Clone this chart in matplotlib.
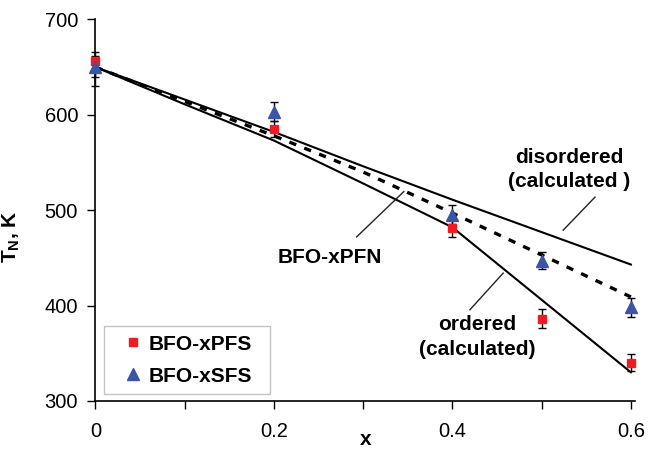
import numpy as np
import matplotlib
matplotlib.use("Agg")
from matplotlib import pyplot as plt

plt.rcParams["font.family"] = ["Liberation Sans", "DejaVu Sans"]
plt.rcParams["mathtext.default"] = "regular"

# calculated curves
x_calc = [0.0, 0.1, 0.2, 0.3, 0.4, 0.5, 0.6]
t_disordered = [650, 616, 582, 546, 511, 477, 443]
t_ordered = [650, 611, 573, 528, 482, 406, 330]
t_pfn = [650, 614, 578, 540, 497, 453, 409]

# measured points
x_pfs = [0.0, 0.2, 0.4, 0.5, 0.6]
t_pfs = [656, 585, 481, 386, 340]
err_pfs_lo = [16, 8, 9, 10, 9]
err_pfs_hi = [10, 8, 9, 10, 9]

x_sfs = [0.0, 0.2, 0.4, 0.5, 0.6]
t_sfs = [650, 603, 495, 447, 398]
err_sfs_lo = [20, 10, 10, 9, 10]
err_sfs_hi = [12, 10, 10, 9, 10]

red = "#ED1C24"
blue = "#3A55A5"

fig = plt.figure(figsize=(6.49, 4.51), dpi=100)
ax = fig.add_axes([0.147, 0.111, 0.832, 0.846])

ax.plot(x_calc, t_disordered, color="black", lw=1.5, clip_on=False, zorder=2)
ax.plot(x_calc, t_ordered, color="black", lw=1.5, clip_on=False, zorder=2)
ax.plot(x_calc, t_pfn, color="black", lw=2.4, ls=(0, (2.2, 2.6)), clip_on=False, zorder=2)

ax.errorbar(x_pfs, t_pfs, yerr=[err_pfs_lo, err_pfs_hi], fmt="none", ecolor="black",
            elinewidth=1, capsize=3, capthick=1, zorder=3, clip_on=False)
ax.errorbar(x_sfs, t_sfs, yerr=[err_sfs_lo, err_sfs_hi], fmt="none", ecolor="black",
            elinewidth=1, capsize=3, capthick=1, zorder=3, clip_on=False)
ax.plot(x_pfs, t_pfs, ls="none", marker="s", ms=6, color=red, mec=red,
        label="BFO-xPFS", zorder=4, clip_on=False)
ax.plot(x_sfs, t_sfs, ls="none", marker="^", ms=8.5, color=blue, mec=blue,
        label="BFO-xSFS", zorder=5, clip_on=False)

ax.set_xlim(0, 0.605)
ax.set_ylim(300, 700)
ax.set_xticks([0, 0.2, 0.4, 0.6])
ax.set_xticklabels(["0", "0.2", "0.4", "0.6"])
ax.set_xticks([0.1, 0.3, 0.5], minor=True)
ax.set_yticks([300, 400, 500, 600, 700])
ax.tick_params(axis="x", which="both", direction="out", length=5.5, width=1, pad=10, labelsize=14.5)
ax.tick_params(axis="y", direction="out", length=5.5, width=1, pad=7, labelsize=14.5)
ax.spines["top"].set_visible(False)
ax.spines["right"].set_visible(False)
ax.spines["left"].set_linewidth(1.2)
ax.spines["bottom"].set_linewidth(1.2)

ax.set_xlabel("x", fontsize=15, fontweight="bold", labelpad=-8)
ax.set_ylabel("T$_{N}$, K", fontsize=15, fontweight="bold")
ax.yaxis.set_label_coords(-0.136, 0.43)

# annotations with leader lines
txt = dict(fontsize=15, fontweight="bold", ha="center", va="center", linespacing=1.35)
ax.text(0.263, 450, "BFO-xPFN", **txt)
ax.plot([0.2927, 0.3456], [472, 519.5], color="#222222", lw=1)
ax.text(0.531, 543, "disordered\n(calculated )", **txt)
ax.plot([0.5241, 0.5597], [479, 513.6], color="#222222", lw=1)
ax.text(0.4275, 367, "ordered\n(calculated)", **txt)
ax.plot([0.4196, 0.4569], [395.6, 434], color="#222222", lw=1)

leg = ax.legend(loc="lower left", bbox_to_anchor=(104 / 649, 1 - 394 / 451, 166 / 649, 67 / 451),
                bbox_transform=fig.transFigure, mode="expand", borderaxespad=0,
                fancybox=False, frameon=True, edgecolor="#B4B4B4", borderpad=0.4,
                handlelength=2.0, handletextpad=-0.28, labelspacing=0.62,
                prop={"size": 15, "weight": "bold"})
leg.get_frame().set_linewidth(1)

fig.savefig("out.png", dpi=100)
